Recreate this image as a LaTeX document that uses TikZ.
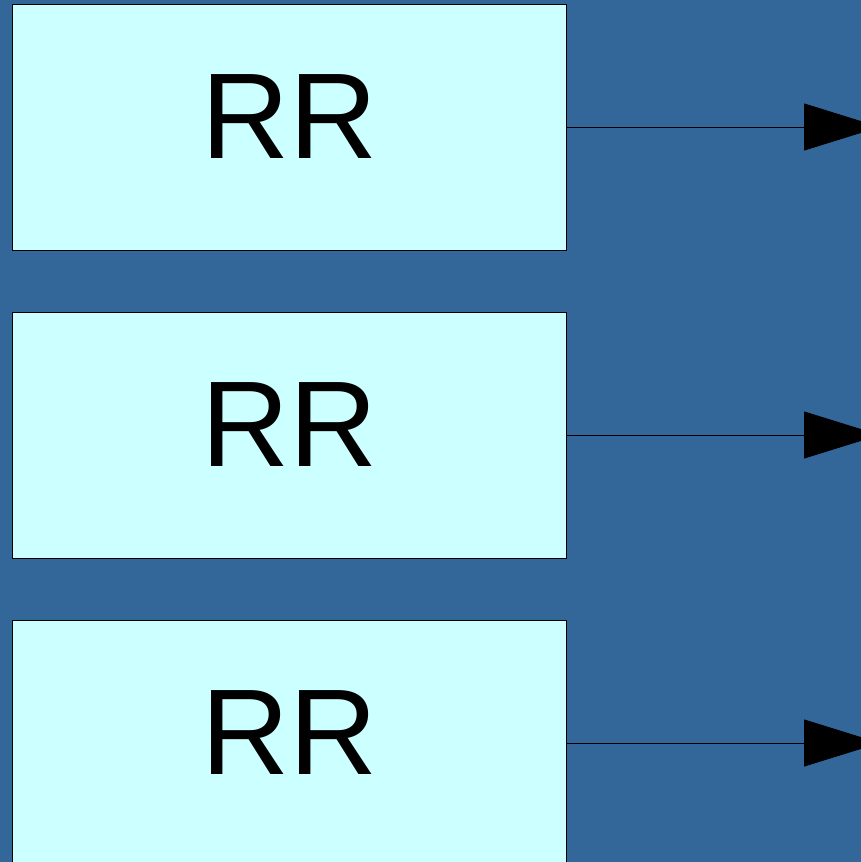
\documentclass[tikz,border=0pt]{standalone}
\usepackage{fontspec}
\setmainfont{Liberation Sans}
\usetikzlibrary{arrows.meta}
\definecolor{bgblue}{HTML}{336699}
\definecolor{boxcyan}{HTML}{CCFFFF}
\begin{document}
\begin{tikzpicture}[x=1pt,y=1pt,
  rrbox/.style={draw=black, line width=0.9pt, fill=boxcyan, minimum width=554pt, minimum height=246pt, inner sep=0pt, outer sep=0pt},
  rrlabel/.style={font=\fontsize{122}{126}\selectfont, inner sep=0pt},
  conn/.style={draw=black, line width=1pt, -{Triangle[length=76pt,width=47pt]}}]
\useasboundingbox (0,0) rectangle (861,-862);
\clip (0,0) rectangle (861,-862);
\fill[bgblue] (0,0) rectangle (861,-862);
\foreach \i/\y in {1/127,2/435,3/743}{
  \node[rrbox] (b\i) at (289,-\y) {};
  \node[rrlabel] (t\i) at ([xshift=0.5pt,yshift=10.6pt]b\i.center) {RR};
  \coordinate (e\i) at (880,-\y);
  \draw[conn] (b\i.east) -- (e\i);
}
\end{tikzpicture}
\end{document}
